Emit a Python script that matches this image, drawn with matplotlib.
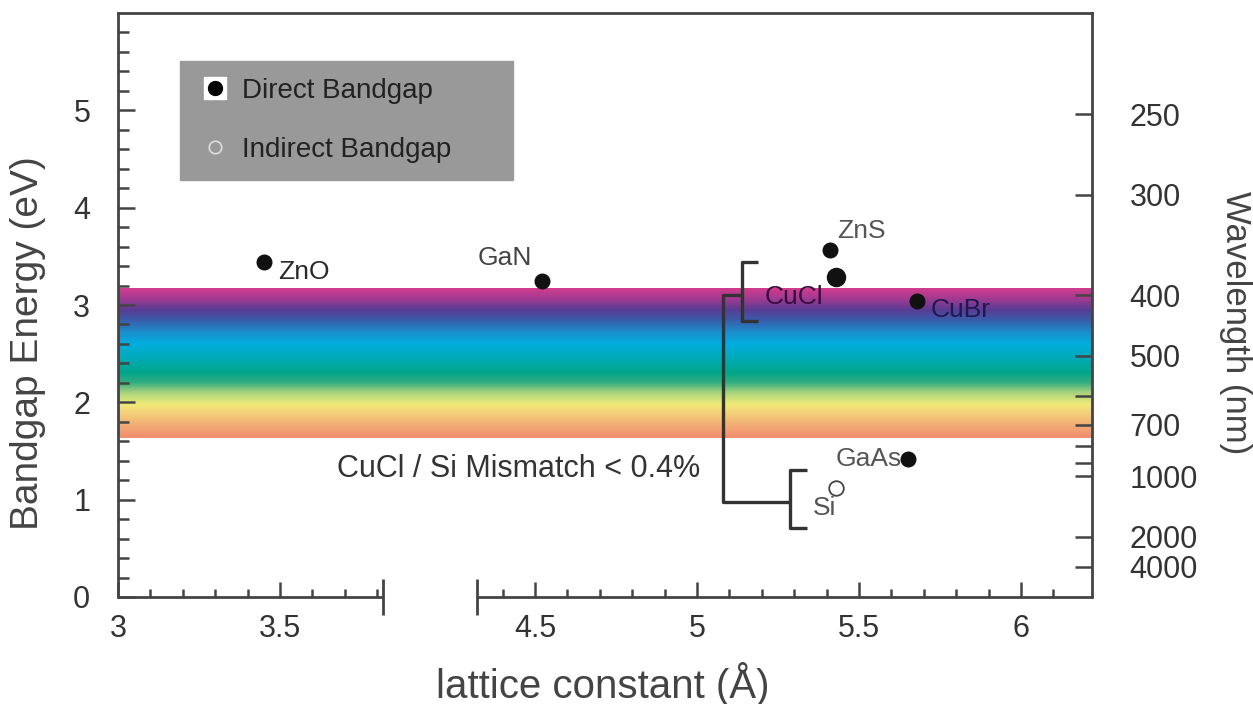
import numpy as np
import matplotlib.pyplot as plt
from matplotlib.colors import LinearSegmentedColormap, Normalize
from matplotlib.lines import Line2D
from matplotlib.legend_handler import HandlerTuple

plt.rcParams['font.family'] = ['Liberation Sans', 'DejaVu Sans']

# data
materials = ['ZnO', 'GaN', 'ZnS', 'CuCl', 'CuBr', 'GaAs', 'Si']
lattice = [3.45, 4.52, 5.41, 5.43, 5.68, 5.65, 5.43]
bandgap = [3.44, 3.25, 3.57, 3.29, 3.04, 1.42, 1.12]
direct = [True, True, True, True, True, True, False]

wl_ticks = [250, 300, 400, 500, 600, 700, 800, 900, 1000, 2000, 4000]
wl_shown = [250, 300, 400, 500, 700, 1000, 2000, 4000]

x_major = [3, 3.5, 4.5, 5, 5.5, 6]
x_labels = ['3', '3.5', '4.5', '5', '5.5', '6']

# visible spectrum band (energy in eV, colour)
band_energy = [1.63, 1.75, 1.9, 1.98, 2.1, 2.2, 2.3, 2.45, 2.6, 2.72, 2.85, 2.95, 3.05, 3.17]
band_colors = ['#f08c6c', '#f2a874', '#f3d478', '#f0ea78', '#a6d27c', '#34ae80', '#00a688',
               '#00a9b6', '#00aede', '#1a8ecc', '#3a5aa8', '#583c94', '#983a92', '#d03c8c']

# broken x axis
brk = (3.818, 4.321)
gap = 0.29


def fwd(x):
    return np.interp(x, [0, brk[0], brk[1], 10], [0, brk[0], brk[0] + gap, 10 - (brk[1] - brk[0] - gap)])


def inv(u):
    return np.interp(u, [0, brk[0], brk[0] + gap, 10 - (brk[1] - brk[0] - gap)], [0, brk[0], brk[1], 10])


xmax = 6.219
dark = '#444444'

fig = plt.figure(figsize=(12.53, 7.04), dpi=100)
ax = fig.add_axes([0.0942, 0.152, 0.7773, 0.8295])
ax.set_xscale('function', functions=(fwd, inv))
ax.set_xlim(3.0, xmax)
ax.set_ylim(0, 6.0)

# rainbow band
cmap = LinearSegmentedColormap.from_list(
    'vis', [((e - band_energy[0]) / (band_energy[-1] - band_energy[0]), c)
            for e, c in zip(band_energy, band_colors)])
ye = np.linspace(band_energy[0], band_energy[-1], 301)
ym = (ye[:-1] + ye[1:]) / 2
ax.pcolormesh([3.0, xmax], ye, ym[:, None], cmap=cmap,
              norm=Normalize(band_energy[0], band_energy[-1]), shading='flat', zorder=0)

# points
sizes = {'CuCl': 13}
for m, xv, yv, d in zip(materials, lattice, bandgap, direct):
    ms = sizes.get(m, 10.5)
    if d:
        ax.plot(xv, yv, 'o', ms=ms, color='#111111', zorder=4)
    else:
        ax.plot(xv, yv, 'o', ms=ms, mfc='white', mec='#444444', mew=1.3, zorder=4)

label_pos = {
    'ZnO': (10, -7, 'left', '#2a2a2a'),
    'GaN': (-6.5, 16.5, 'right', '#444444'),
    'ZnS': (5, 13, 'left', '#555555'),
    'CuCl': (-9.5, -14.5, 'right', '#3a0c3e'),
    'CuBr': (9.5, -6.5, 'left', '#201850'),
    'GaAs': (-4.3, 0, 'right', '#555555'),
    'Si': (0, -14.5, 'right', '#555555'),
}
for m, xv, yv in zip(materials, lattice, bandgap):
    dx, dy, ha, c = label_pos[m]
    ax.annotate(m, (xv, yv), xytext=(dx, dy), textcoords='offset points',
                ha=ha, va='center', fontsize=19, color=c, zorder=5)

# brackets joining CuCl and Si
lk = dict(color='#333333', lw=2.4, solid_capstyle='butt', zorder=3)
ax.plot([5.187, 5.139, 5.139, 5.187], [3.44, 3.44, 2.84, 2.84], **lk)
ax.plot([5.139, 5.080, 5.080, 5.287], [3.10, 3.10, 0.975, 0.975], **lk)
ax.plot([5.339, 5.287, 5.287, 5.339], [1.30, 1.30, 0.71, 0.71], **lk)
ax.text(3.676, 1.31, 'CuCl / Si Mismatch < 0.4%', fontsize=22, color='#333333',
        ha='left', va='center')

# spines and broken bottom axis
for s in ['left', 'top', 'right']:
    ax.spines[s].set_color(dark)
    ax.spines[s].set_linewidth(2)
ax.spines['bottom'].set_visible(False)
bk = dict(color=dark, lw=2, clip_on=False, zorder=5, solid_capstyle='butt')
ax.plot([3.0, brk[0]], [0, 0], **bk)
ax.plot([brk[1], xmax], [0, 0], **bk)
ax.plot([brk[0], brk[0]], [-0.18, 0.18], **bk)
ax.plot([brk[1], brk[1]], [-0.18, 0.18], **bk)

ax.set_xticks(x_major)
ax.set_xticklabels(x_labels)
x_minor = [round(v, 1) for v in np.arange(3.1, 3.85, 0.1)] + \
          [round(v, 1) for v in np.arange(4.4, 6.15, 0.1)]
x_minor = [v for v in x_minor if v not in x_major]
ax.set_xticks(x_minor, minor=True)
ax.set_yticks(range(6))
ax.set_yticks([v / 5 for v in range(30) if v % 5], minor=True)
ax.tick_params(which='both', direction='in', colors=dark, labelcolor='#333333', width=1.8)
ax.tick_params(axis='y', which='major', length=12, pad=20, labelsize=22)
ax.tick_params(axis='y', which='minor', length=8)
ax.tick_params(axis='x', which='major', length=11, pad=12, labelsize=22)
ax.tick_params(axis='x', which='minor', length=6)
ax.yaxis.set_ticks_position('left')
ax.xaxis.set_ticks_position('bottom')

ax.set_xlabel('lattice constant (Å)', fontsize=29, color='#444444', va='center')
ax.xaxis.set_label_coords(0.498, -0.149)
ax.set_ylabel('Bandgap Energy (eV)', fontsize=28, color='#444444', ha='center', va='center')
ax.yaxis.set_label_coords(-0.0924, 0.435)

# wavelength axis on the right
ax2 = ax.twinx()
ax2.set_ylim(0, 6.0)
ax2.set_yticks([1240 / w for w in wl_ticks])
ax2.set_yticklabels([str(w) if w in wl_shown else '' for w in wl_ticks])
ax2.tick_params(axis='y', direction='in', length=12, width=1.8, colors=dark,
                labelcolor='#333333', labelsize=22, pad=27)
for s in ax2.spines.values():
    s.set_visible(False)
ax2.set_ylabel('Wavelength (nm)', fontsize=25, color='#444444', rotation=270,
               ha='center', va='center')
ax2.yaxis.set_label_coords(1.147, 0.469)

# legend
h_direct = (Line2D([], [], marker='s', ms=16, color='white', ls='none'),
            Line2D([], [], marker='o', ms=10, color='black', ls='none'))
h_indirect = Line2D([], [], marker='o', ms=9, mfc='none', mec='#dddddd', mew=1.2, ls='none')
leg = ax.legend([h_direct, h_indirect], ['Direct Bandgap', 'Indirect Bandgap'],
                handler_map={tuple: HandlerTuple(ndivide=1)},
                loc='upper left', bbox_to_anchor=(0.0637, 0.709, 0.3418, 0.209),
                mode='expand', borderaxespad=0, fontsize=20, frameon=True,
                fancybox=False, facecolor='#999999', edgecolor='#999999', framealpha=1,
                handlelength=1.33, handletextpad=0.3, borderpad=0.6, labelspacing=1.2)
for t in leg.get_texts():
    t.set_color('#222222')

fig.savefig('out.png', dpi=100)
